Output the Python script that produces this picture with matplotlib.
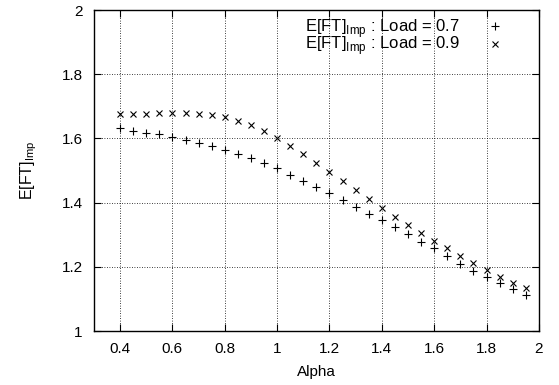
import matplotlib
matplotlib.use("Agg")
import matplotlib.pyplot as plt
from matplotlib.ticker import FormatStrFormatter, MultipleLocator

plt.rcParams['font.family'] = ['Liberation Sans', 'DejaVu Sans']
plt.rcParams['mathtext.fontset'] = 'custom'
plt.rcParams['mathtext.rm'] = 'Liberation Sans'

alpha = [0.40, 0.45, 0.50, 0.55, 0.60, 0.65, 0.70, 0.75, 0.80, 0.85,
         0.90, 0.95, 1.00, 1.05, 1.10, 1.15, 1.20, 1.25, 1.30, 1.35,
         1.40, 1.45, 1.50, 1.55, 1.60, 1.65, 1.70, 1.75, 1.80, 1.85,
         1.90, 1.95]
load07 = [1.631, 1.624, 1.618, 1.613, 1.603, 1.595, 1.587, 1.577, 1.564, 1.551,
          1.538, 1.524, 1.507, 1.486, 1.468, 1.449, 1.429, 1.408, 1.385, 1.364,
          1.346, 1.323, 1.302, 1.278, 1.258, 1.234, 1.209, 1.188, 1.167, 1.149,
          1.130, 1.112]
load09 = [1.676, 1.676, 1.676, 1.678, 1.678, 1.678, 1.676, 1.673, 1.666, 1.654,
          1.642, 1.624, 1.602, 1.577, 1.551, 1.525, 1.496, 1.467, 1.439, 1.410,
          1.382, 1.356, 1.330, 1.306, 1.281, 1.258, 1.234, 1.211, 1.190, 1.167,
          1.149, 1.133]
labels = ["E[FT]$_{\\mathregular{Imp}}$ : Load = 0.7",
          "E[FT]$_{\\mathregular{Imp}}$ : Load = 0.9"]

fig = plt.figure(figsize=(5.59, 3.85), dpi=100)
ax = fig.add_axes([0.168, 0.140, 0.796, 0.834])

ax.plot(alpha, load07, linestyle='none', marker='+', color='black',
        markersize=6, markeredgewidth=0.8, label=labels[0])
ax.plot(alpha, load09, linestyle='none', marker='x', color='black',
        markersize=5, markeredgewidth=0.8, label=labels[1])

ax.set_xlim(0.3, 2.0)
ax.set_ylim(1.0, 2.0)
ax.yaxis.set_major_locator(MultipleLocator(0.2))
ax.xaxis.set_major_formatter(FormatStrFormatter('%g'))
ax.yaxis.set_major_formatter(FormatStrFormatter('%g'))
ax.set_xticks([0.4, 0.6, 0.8, 1.0, 1.2, 1.4, 1.6, 1.8, 2.0])

ax.grid(True, color='black', linestyle=(0, (1, 2)), linewidth=0.6)
ax.tick_params(direction='in', length=5, width=0.8, top=True, right=True,
               labelsize=11, pad=8)
for s in ax.spines.values():
    s.set_linewidth(1.0)

ax.set_xlabel("Alpha", fontsize=11, labelpad=6)
ax.set_ylabel("E[FT]$_{\\mathregular{Imp}}$", fontsize=11.5, labelpad=16)

# rows sit tight, as in the reference
leg = ax.legend(loc='upper right', bbox_to_anchor=(0.935, 1.0), frameon=False,
                markerfirst=False, fontsize=12, handlelength=1.0,
                handletextpad=1.6, borderaxespad=0, labelspacing=-0.3)
for t in leg.get_texts():
    t.set_ha('right')

fig.savefig("out.png", dpi=100)
